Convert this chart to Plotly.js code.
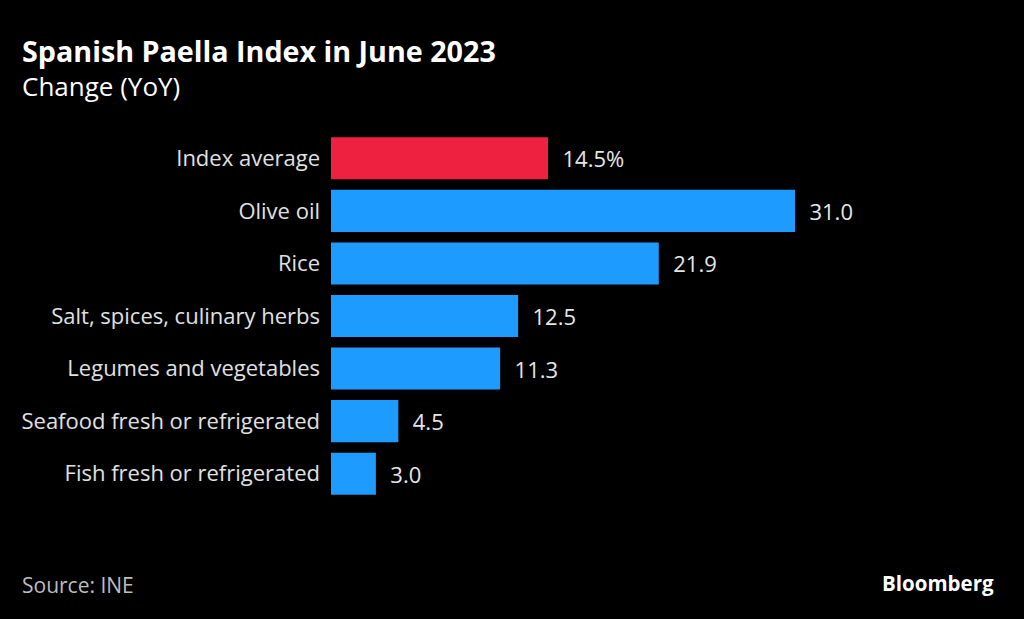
<!DOCTYPE html>
<html>
<head>
<meta charset="utf-8">
<script src="https://cdn.plot.ly/plotly-3.0.1.min.js"></script>
<style>html,body{margin:0;padding:0;background:#000;}#chart{width:1024px;height:619px;}</style>
</head>
<body>
<div id="chart"></div>
<script>
const categories = ["Index average", "Olive oil", "Rice", "Salt, spices, culinary herbs", "Legumes and vegetables", "Seafood fresh or refrigerated", "Fish fresh or refrigerated"];
const values = [14.5, 31.0, 21.9, 12.5, 11.3, 4.5, 3.0];
const valueLabels = ["14.5%", "31.0", "21.9", "12.5", "11.3", "4.5", "3.0"];
const barColors = ["#ee2140", "#1e9bff", "#1e9bff", "#1e9bff", "#1e9bff", "#1e9bff", "#1e9bff"];

const FONT = "'Open Sans', 'Noto Sans', sans-serif";
const L = 331, R = 59, T = 132, B = 119;
const W = 1024 - L - R, H = 619 - T - B;
const px = x => (x - L) / W;
const py = y => (619 - B - y) / H;

const trace = {
  type: "bar",
  orientation: "h",
  y: categories,
  x: values,
  text: valueLabels.map(s => "\u00a0\u00a0" + s),
  textposition: "outside",
  cliponaxis: false,
  textfont: {family: FONT, size: 22, color: "#e6e6e6"},
  marker: {color: barColors, line: {width: 0}},
  hoverinfo: "none"
};

const layout = {
  width: 1024, height: 619,
  paper_bgcolor: "#000", plot_bgcolor: "#000",
  margin: {l: L, r: R, t: T, b: B, pad: 0},
  showlegend: false,
  bargap: 0.2,
  font: {family: FONT, color: "#e6e6e6"},
  xaxis: {range: [0, W / (464 / 31)], visible: false, fixedrange: true},
  yaxis: {
    autorange: "reversed", showgrid: false, zeroline: false, showline: false,
    ticks: "", ticklabelstandoff: 10,
    tickfont: {family: FONT, size: 22, color: "#e0e0e0"}
  },
  annotations: [
    {text: "<b>Spanish Paella Index in June 2023</b>", xref: "paper", yref: "paper", x: px(20), y: py(50), xanchor: "left", yanchor: "middle", showarrow: false, font: {family: FONT, size: 28.7, color: "#ffffff"}},
    {text: "Change (YoY)", xref: "paper", yref: "paper", x: px(20), y: py(86), xanchor: "left", yanchor: "middle", showarrow: false, font: {family: FONT, size: 26, color: "#ffffff"}},
    {text: "Source: INE", xref: "paper", yref: "paper", x: px(20), y: py(585), xanchor: "left", yanchor: "middle", showarrow: false, font: {family: FONT, size: 21, color: "#bdbdbd"}},
    {text: "<b>Bloomberg</b>", xref: "paper", yref: "paper", x: px(996), y: py(583), xanchor: "right", yanchor: "middle", showarrow: false, font: {family: FONT, size: 20.5, color: "#ffffff"}}
  ]
};

Plotly.newPlot("chart", [trace], layout, {displayModeBar: false, staticPlot: true});
</script>
</body>
</html>
